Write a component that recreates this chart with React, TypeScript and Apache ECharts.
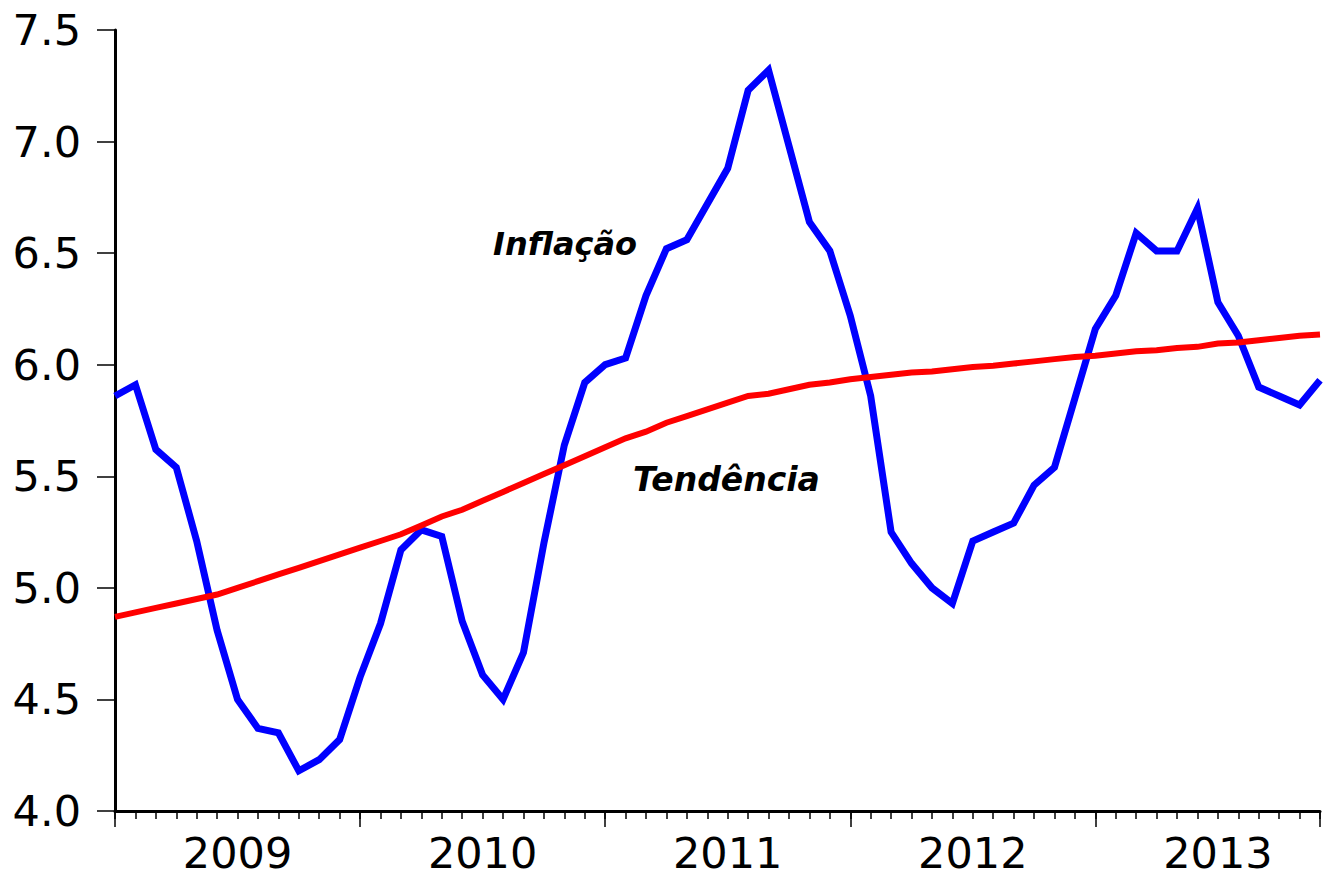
import React, { useEffect, useRef } from "react";
import * as echarts from "echarts";

const years = ["2009", "2010", "2011", "2012", "2013"];
const monthsPerYear = 12;

const inflacao = [
  5.86, 5.91, 5.62, 5.54, 5.21, 4.81, 4.50, 4.37, 4.35, 4.18, 4.23, 4.32,
  4.60, 4.84, 5.17, 5.26, 5.23, 4.85, 4.61, 4.50, 4.71, 5.20, 5.64, 5.92,
  6.00, 6.03, 6.31, 6.52, 6.56, 6.72, 6.88, 7.23, 7.32, 6.98, 6.64, 6.51,
  6.22, 5.86, 5.25, 5.11, 5.00, 4.93, 5.21, 5.25, 5.29, 5.46, 5.54, 5.85,
  6.16, 6.31, 6.59, 6.51, 6.51, 6.70, 6.28, 6.13, 5.90, 5.86, 5.82, 5.93,
];

const tendencia = [
  4.87, 4.89, 4.91, 4.93, 4.95, 4.97, 5.00, 5.03, 5.06, 5.09, 5.12, 5.15,
  5.18, 5.21, 5.24, 5.28, 5.32, 5.35, 5.39, 5.43, 5.47, 5.51, 5.55, 5.59,
  5.63, 5.67, 5.70, 5.74, 5.77, 5.80, 5.83, 5.86, 5.87, 5.89, 5.91, 5.92,
  5.935, 5.945, 5.955, 5.965, 5.97, 5.98, 5.99, 5.995, 6.005, 6.015, 6.025, 6.035,
  6.04, 6.05, 6.06, 6.065, 6.075, 6.08, 6.095, 6.10, 6.11, 6.12, 6.13, 6.135,
];

const yMin = 4.0;
const yMax = 7.5;
const yStep = 0.5;

const FONT = "DejaVu Sans";

export default function App() {
  const ref = useRef<HTMLDivElement>(null);
  useEffect(() => {
    if (!ref.current) return;
    const chart = echarts.init(ref.current, undefined, { renderer: "svg" });
    const lastIdx = inflacao.length - 1;
    const toPairs = (arr: number[]) => arr.map((v, i) => [i, v]);
    chart.setOption({
      animation: false,
      backgroundColor: "#ffffff",
      grid: { left: 115, right: 0, top: 30, bottom: 67 },
      xAxis: [
        {
          type: "value",
          min: 0,
          max: lastIdx,
          interval: 1,
          position: "bottom",
          axisLine: { show: true, onZero: false, lineStyle: { color: "#000", width: 3 } },
          axisTick: {
            show: true,
            inside: false,
            length: 8,
            lineStyle: { color: "#000", width: 1.5 },
          },
          axisLabel: {
            show: true,
            showMinLabel: true,
            showMaxLabel: true,
            hideOverlap: false,
            formatter: (v: number) =>
              v % monthsPerYear === 6 ? years[Math.floor(v / monthsPerYear)] ?? "" : "",
            fontFamily: FONT,
            fontSize: 43,
            color: "#000",
            margin: 20,
          },
          splitLine: { show: false },
        },
        {
          type: "value",
          min: 0,
          max: lastIdx,
          interval: monthsPerYear,
          position: "bottom",
          axisLine: { show: false, onZero: false },
          axisTick: {
            show: true,
            inside: false,
            length: 16,
            lineStyle: { color: "#000", width: 1.5 },
          },
          axisLabel: { show: false },
          splitLine: { show: false },
        },
      ],
      yAxis: {
        type: "value",
        min: yMin,
        max: yMax,
        interval: yStep,
        axisLine: { show: true, lineStyle: { color: "#000", width: 3 } },
        axisTick: { show: true, inside: false, length: 18, lineStyle: { color: "#000", width: 1.5 } },
        axisLabel: {
          formatter: (v: number) => v.toFixed(1),
          fontFamily: FONT,
          fontSize: 43,
          color: "#000",
          margin: 34,
          padding: [0, 0, 12, 0],
        },
        splitLine: { show: false },
      },
      series: [
        {
          name: "Inflação",
          type: "line",
          data: toPairs(inflacao),
          xAxisIndex: 0,
          showSymbol: false,
          symbol: "none",
          lineStyle: { color: "#0000ff", width: 7, join: "miter" },
          z: 2,
        },
        {
          name: "Tendência",
          type: "line",
          data: toPairs(tendencia),
          xAxisIndex: 0,
          showSymbol: false,
          symbol: "none",
          lineStyle: { color: "#ff0000", width: 6, join: "miter" },
          z: 3,
        },
      ],
      graphic: [
        {
          type: "text",
          x: 493,
          y: 244,
          style: {
            text: "Inflação",
            font: `italic bold 32px "${FONT}"`,
            fill: "#000",
            verticalAlign: "middle",
            align: "left",
          },
        },
        {
          type: "text",
          x: 633,
          y: 479,
          style: {
            text: "Tendência",
            font: `italic bold 33px "${FONT}"`,
            fill: "#000",
            verticalAlign: "middle",
            align: "left",
          },
        },
      ],
    });
    return () => chart.dispose();
  }, []);
  return (
    <div
      ref={ref}
      style={{ position: "fixed", left: 0, top: 0, width: 1323, height: 878, background: "#fff" }}
    />
  );
}
